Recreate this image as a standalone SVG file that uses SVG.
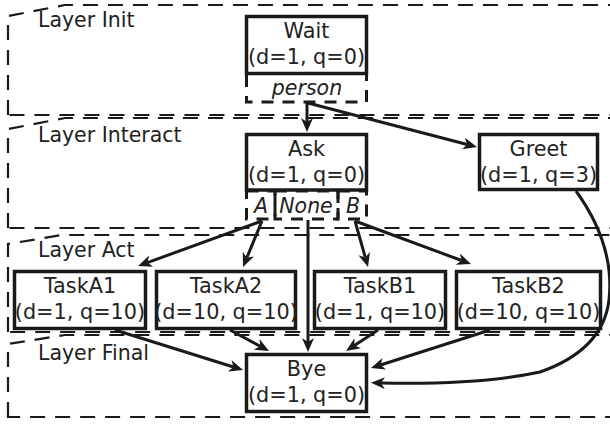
<svg xmlns="http://www.w3.org/2000/svg" width="610" height="426" viewBox="0 0 610 426">
<style>
.layer{fill:none;stroke:#1a1a1a;stroke-width:2.2;stroke-dasharray:15,10}
.ltxt{font-family:"DejaVu Sans",sans-serif;font-size:20.5px;fill:#222}
.box{fill:#fff;stroke:#1a1a1a;stroke-width:3.5}
.port{fill:none;stroke:#1a1a1a;stroke-width:3;stroke-dasharray:12,9}
.t{font-family:"DejaVu Sans",sans-serif;font-size:20.8px;fill:#222;text-anchor:middle}
.pt{font-family:"DejaVu Sans",sans-serif;font-size:20.5px;font-style:italic;fill:#222;text-anchor:middle}
.e{fill:none;stroke:#1a1a1a;stroke-width:3;marker-end:url(#ah)}
</style>
<defs>
<marker id="ah" markerUnits="userSpaceOnUse" markerWidth="16" markerHeight="14" refX="4" refY="6" orient="auto">
<path d="M0,0 L14,6 L0,12 L4,6 z" fill="#1a1a1a"/>
</marker>
</defs>
<g id="layer-init">
<path class="layer" d="M8,115 L8,16 L65,5 L611.2,5 L611.2,115 Z"/>
<text class="ltxt" x="38" y="27">Layer Init</text>
</g>
<g id="layer-interact">
<path class="layer" d="M8,228 L8,129 L65,118 L611.2,118 L611.2,228 Z"/>
<text class="ltxt" x="38" y="142">Layer Interact</text>
</g>
<g id="layer-act">
<path class="layer" d="M8,332 L8,244 L62,235 L611.2,235 L611.2,332 Z"/>
<text class="ltxt" x="38" y="257">Layer Act</text>
</g>
<g id="layer-final">
<path class="layer" d="M8,417 L8,344 L65,335 L611.2,335 L611.2,417 Z"/>
<text class="ltxt" x="38" y="360">Layer Final</text>
</g>
<g id="connectors">
<path class="e" d="M307,103 L307,122"/>
<path class="e" d="M308,103 L467.3,144.5"/>
<path class="e" d="M262,221 L147.4,262.6"/>
<path class="e" d="M262,221 L246.8,257.8"/>
<path class="e" d="M308,220 L308,342"/>
<path class="e" d="M355,221 L365.3,257.4"/>
<path class="e" d="M355,221 L461.6,260.5"/>
<path class="e" d="M115,330 L233.5,367"/>
<path class="e" d="M230,330 L260.2,346.3"/>
<path class="e" d="M378,330 L354.4,345.5"/>
<path class="e" d="M490,330 L380.5,365"/>
<path class="e" d="M576,191 Q615,245 609,300 Q603,350 540,372 Q480,385 381,383"/>
</g>
<g id="wait">
<rect class="box" x="246.5" y="16.5" width="120" height="57"/>
<text class="t" x="306.5" y="38">Wait</text>
<text class="t" x="306.5" y="64">(d=1, q=0)</text>
<path class="port" d="M246.5,75 V102 H366.5 V75"/>
<text class="pt" x="307" y="95">person</text>
</g>
<g id="ask">
<rect class="box" x="246.5" y="134.5" width="120" height="55.5"/>
<text class="t" x="306.5" y="156">Ask</text>
<text class="t" x="306.5" y="182">(d=1, q=0)</text>
<rect class="port" x="246.5" y="191" width="28.5" height="28"/>
<rect class="port" x="275" y="191" width="63" height="28"/>
<rect class="port" x="338" y="191" width="28.5" height="28"/>
<text class="pt" x="261" y="213">A</text>
<text class="pt" x="306" y="213">None</text>
<text class="pt" x="353" y="213">B</text>
</g>
<g id="greet">
<rect class="box" x="479.5" y="134.5" width="118" height="55"/>
<text class="t" x="538.5" y="156">Greet</text>
<text class="t" x="538.5" y="182">(d=1, q=3)</text>
</g>
<g id="taskA1">
<rect class="box" x="14.5" y="271.5" width="131" height="57"/>
<text class="t" x="80" y="293">TaskA1</text>
<text class="t" x="80" y="319">(d=1, q=10)</text>
</g>
<g id="taskA2">
<rect class="box" x="156.5" y="271.5" width="139" height="57"/>
<text class="t" x="226" y="293">TaskA2</text>
<text class="t" x="226" y="319">(d=10, q=10)</text>
</g>
<g id="taskB1">
<rect class="box" x="314.5" y="271.5" width="131" height="57"/>
<text class="t" x="380" y="293">TaskB1</text>
<text class="t" x="380" y="319">(d=1, q=10)</text>
</g>
<g id="taskB2">
<rect class="box" x="456.5" y="271.5" width="144" height="57"/>
<text class="t" x="528.5" y="293">TaskB2</text>
<text class="t" x="528.5" y="319">(d=10, q=10)</text>
</g>
<g id="bye">
<rect class="box" x="246.5" y="354.5" width="120" height="57"/>
<text class="t" x="306.5" y="376">Bye</text>
<text class="t" x="306.5" y="402">(d=1, q=0)</text>
</g>
</svg>
